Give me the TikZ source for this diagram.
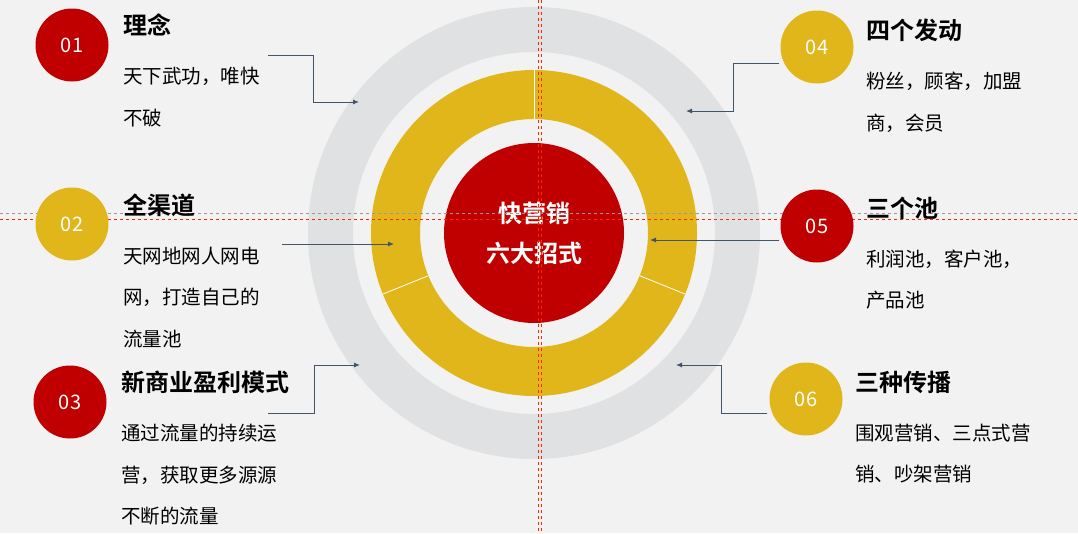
\documentclass[tikz,border=0pt]{standalone}
\usepackage{fontspec}
\usetikzlibrary{calc,arrows.meta}
\setmainfont{Noto Sans CJK SC}[BoldFont={Noto Sans CJK SC Bold}]
\definecolor{bg}{HTML}{F2F2F2}
\definecolor{ringgray}{HTML}{E0E1E3}
\definecolor{gold}{HTML}{E1B61B}
\definecolor{dred}{HTML}{C00000}
\definecolor{lnk}{HTML}{44546A}
\begin{document}
\begin{tikzpicture}[x=1pt,y=-1pt,
  badge/.style={circle,minimum size=73pt,inner sep=0pt,text=white,font=\fontsize{20}{20}\selectfont},
  ttl/.style={anchor=west,inner sep=0pt,font=\bfseries\fontsize{24}{24}\selectfont},
  bod/.style={anchor=west,inner sep=0pt,font=\fontsize{19.5}{19.5}\selectfont},
  conn/.style={lnk,line width=0.9pt,-{Latex[length=6pt,width=5pt]}}]
\fill[bg] (0,0) rectangle (1078,533);
\useasboundingbox (0,0) rectangle (1078,533);
\coordinate (C) at (534,233);
\fill[ringgray,even odd rule] (C) circle (226) (C) circle (181);
\fill[gold,even odd rule] (C) circle (163) (C) circle (114);
\foreach \a in {270,158,22} \draw[white,line width=0.8pt] ($(C)+(\a:114)$) -- ($(C)+(\a:163)$);
\node[circle,fill=dred,minimum size=180pt,inner sep=0pt,text=white,align=center,font=\bfseries\fontsize{24}{40}\selectfont] (center) at (C) {快营销\\六大招式};
% guides
\draw[red!70!orange,dashed,line width=0.5pt] (538,0) -- (538,533) (541,0) -- (541,533) (0,219) -- (1078,219);
\draw[gray!80,dashed,line width=0.5pt] (0,213) -- (1078,213);
% badges
\node[badge,fill=dred] (b1) at (72,45) {01};
\node[badge,fill=gold] (b2) at (72,224) {02};
\node[badge,fill=dred] (b3) at (70,402) {03};
\node[badge,fill=gold] (b4) at (817,47) {04};
\node[badge,fill=dred] (b5) at (817,226) {05};
\node[badge,fill=gold] (b6) at (806,399) {06};
% texts
\node[ttl] (t1) at (123,25) {理念};
\node[bod] (l11) at (123,76) {天下武功，唯快};
\node[bod] (l12) at (123,118) {不破};
\node[ttl] (t2) at (123,205) {全渠道};
\node[bod] (l21) at (123,256) {天网地网人网电};
\node[bod] (l22) at (123,297) {网，打造自己的};
\node[bod] (l23) at (123,339) {流量池};
\node[ttl] (t3) at (121,382) {新商业盈利模式};
\node[bod] (l31) at (121,433) {通过流量的持续运};
\node[bod] (l32) at (121,475) {营，获取更多源源};
\node[bod] (l33) at (121,516) {不断的流量};
\node[ttl] (t4) at (866,30) {四个发动};
\node[bod] (l41) at (866,81) {粉丝，顾客，加盟};
\node[bod] (l42) at (866,123) {商，会员};
\node[ttl] (t5) at (866,208) {三个池};
\node[bod] (l51) at (866,259) {利润池，客户池，};
\node[bod] (l52) at (866,300) {产品池};
\node[ttl] (t6) at (855,382) {三种传播};
\node[bod] (l61) at (855,433) {围观营销、三点式营};
\node[bod] (l62) at (855,474) {销、吵架营销};
% connectors
\coordinate (s1) at (268,55); \coordinate (e1) at (359,102);
\draw[conn] (s1) -- (313,55) |- (e1);
\coordinate (s2) at (282,244); \coordinate (e2) at (394,244);
\draw[conn] (s2) -- (e2);
\coordinate (s3) at (268,413); \coordinate (e3) at (360,365);
\draw[conn] (s3) -- (314,413) |- (e3);
\coordinate (s4) at (779,63); \coordinate (e4) at (686,111);
\draw[conn] (s4) -- (733,63) |- (e4);
\coordinate (s5) at (779,240); \coordinate (e5) at (650,240);
\draw[conn] (s5) -- (e5);
\coordinate (s6) at (767,413); \coordinate (e6) at (676,365);
\draw[conn] (s6) -- (721,413) |- (e6);
\end{tikzpicture}
\end{document}
